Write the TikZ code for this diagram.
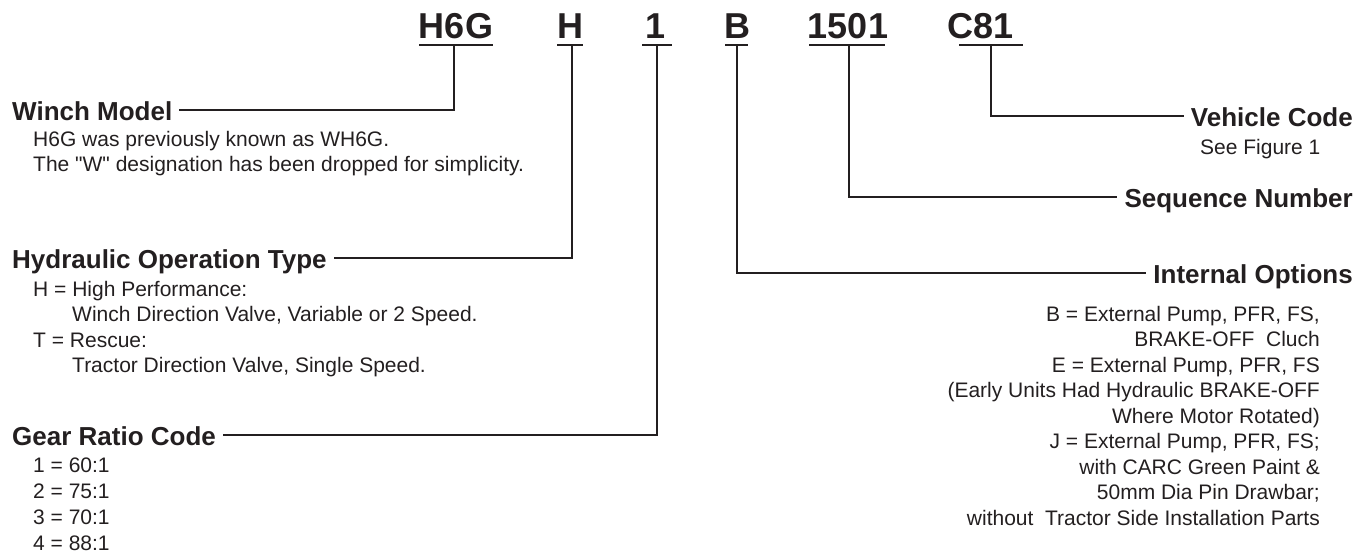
\documentclass[tikz,border=0pt]{standalone}
\usepackage{fontspec}
\setmainfont{Liberation Sans}
\definecolor{ink}{HTML}{231F20}
\newcommand\straightdq{\XeTeXglyph\XeTeXcharglyph"22\relax}
\begin{document}
\begin{tikzpicture}[x=1pt,y=-1pt,
  every node/.style={inner sep=0pt, text=ink},
  code/.style={font=\fontsize{36}{36}\selectfont\bfseries, anchor=base},
  lbl/.style={font=\fontsize{26}{26}\selectfont\bfseries, text height=20pt, text depth=0pt, inner xsep=7pt},
  txt/.style={font=\fontsize{21}{21}\selectfont},
  conn/.style={draw=ink, line width=2.5pt}]
\useasboundingbox (0,0) rectangle (1369,555);

% code letters
\node[code] (c1) at (456,38) {H6G};
\node[code] (c2) at (570,38) {H};
\node[code] (c3) at (656,38) {1};
\node[code] (c4) at (737,38) {B};
\node[code] (c5) at (848,38) {1501};
\node[code] (c6) at (981,38) {C81};

% underlines
\coordinate (u1a) at (419,45); \coordinate (u1b) at (493,45);
\coordinate (u2a) at (557,45); \coordinate (u2b) at (583,45);
\coordinate (u3a) at (642,45); \coordinate (u3b) at (672,45);
\coordinate (u4a) at (725,45); \coordinate (u4b) at (748,45);
\coordinate (u5a) at (809,45); \coordinate (u5b) at (885,45);
\coordinate (u6a) at (959,45); \coordinate (u6b) at (1023,45);
\foreach \i in {1,...,6} {\draw[conn] (u\i a) -- (u\i b);}

% drop points
\coordinate (d1) at (454,45);
\coordinate (d2) at (572,45);
\coordinate (d3) at (657,45);
\coordinate (d4) at (737,45);
\coordinate (d5) at (849,45);
\coordinate (d6) at (991,45);

% left labels
\node[lbl, anchor=base west] (wm) at (5,120) {Winch Model};
\node[txt, anchor=base west] (wm1) at (33,146) {H6G was previously known as WH6G.};
\node[txt, anchor=base west] (wm2) at (33,171.5) {The \straightdq W\straightdq{} designation has been dropped for simplicity.};

\node[lbl, anchor=base west] (ho) at (5,268) {Hydraulic Operation Type};
\node[txt, anchor=base west] (ho1) at (33,296) {H = High Performance:};
\node[txt, anchor=base west] (ho2) at (72,321.5) {Winch Direction Valve, Variable or 2 Speed.};
\node[txt, anchor=base west] (ho3) at (33,347) {T = Rescue:};
\node[txt, anchor=base west] (ho4) at (72,372.5) {Tractor Direction Valve, Single Speed.};

\node[lbl, anchor=base west] (gr) at (5,445) {Gear Ratio Code};
\node[txt, anchor=base west] (gr1) at (33,472) {1 = 60:1};
\node[txt, anchor=base west] (gr2) at (33,498) {2 = 75:1};
\node[txt, anchor=base west] (gr3) at (33,524) {3 = 70:1};
\node[txt, anchor=base west] (gr4) at (33,550) {4 = 88:1};

% right labels
\node[lbl, anchor=base east] (vc) at (1360,126) {Vehicle Code};
\node[txt, anchor=base west] (vc1) at (1200,154) {See Figure 1};
\node[lbl, anchor=base east] (sn) at (1360,207) {Sequence Number};
\node[lbl, anchor=base east] (io) at (1360,283) {Internal Options};

\node[txt, anchor=base east] (io1) at (1320,321) {B = External Pump, PFR, FS,};
\node[txt, anchor=base east] (io2) at (1320,346.5) {BRAKE-OFF\ \ Cluch};
\node[txt, anchor=base east] (io3) at (1320,372) {E = External Pump, PFR, FS};
\node[txt, anchor=base east] (io4) at (1320,397.5) {(Early Units Had Hydraulic BRAKE-OFF};
\node[txt, anchor=base east] (io5) at (1320,423) {Where Motor Rotated)};
\node[txt, anchor=base east] (io6) at (1320,448.5) {J = External Pump, PFR, FS;};
\node[txt, anchor=base east] (io7) at (1320,474) {with CARC Green Paint \&};
\node[txt, anchor=base east] (io8) at (1320,499.5) {50mm Dia Pin Drawbar;};
\node[txt, anchor=base east] (io9) at (1320,525) {without\ \ Tractor Side Installation Parts};

% connectors
\draw[conn] (d1) |- (wm.east);
\draw[conn] (d2) |- (ho.east);
\draw[conn] (d3) |- (gr.east);
\draw[conn] (d4) |- (io.west);
\draw[conn] (d5) |- (sn.west);
\draw[conn] (d6) |- (vc.west);
\end{tikzpicture}
\end{document}
